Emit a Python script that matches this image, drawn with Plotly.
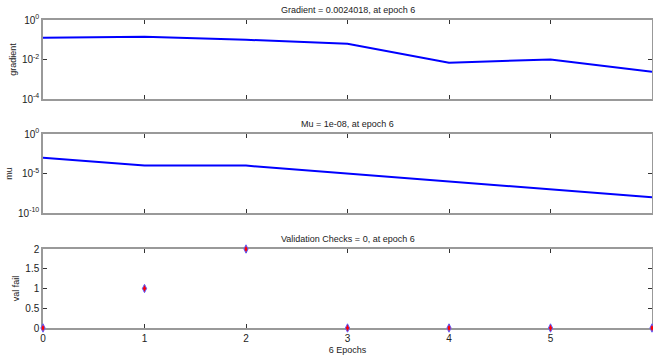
import plotly.graph_objects as go

epochs = [0, 1, 2, 3, 4, 5, 6]
gradient = [0.125, 0.14, 0.1, 0.063, 0.0069, 0.01, 0.0024018]
mu = [1e-3, 1e-4, 1e-4, 1e-5, 1e-6, 1e-7, 1e-8]
val_fail = [0, 1, 2, 0, 0, 0, 0]

titles = ["Gradient = 0.0024018, at epoch 6",
          "Mu = 1e-08, at epoch 6",
          "Validation Checks = 0, at epoch 6"]

W, H = 653, 356
fig = go.Figure()

fig.add_trace(go.Scatter(x=epochs, y=gradient, mode="lines",
                         line=dict(color="#0000FF", width=2), xaxis="x", yaxis="y"))
fig.add_trace(go.Scatter(x=epochs, y=mu, mode="lines",
                         line=dict(color="#0000FF", width=2), xaxis="x2", yaxis="y2"))
fig.add_trace(go.Scatter(x=epochs, y=val_fail, mode="markers", cliponaxis=False,
                         marker=dict(symbol="diamond-tall", color="#FF0000", size=6,
                                     line=dict(color="#6060FF", width=1)),
                         xaxis="x3", yaxis="y3"))

def ydom(top, bot):
    return [1 - bot / H, 1 - top / H]

doms = [ydom(20, 99), ydom(134, 213), ydom(249, 328)]
font = dict(family="Liberation Sans, Arial, sans-serif", size=9, color="#222222")
tfont = dict(family="Liberation Sans, Arial, sans-serif", size=10, color="#222222")

axcommon = dict(showline=True, linecolor="#999999", linewidth=1.5, mirror="ticks",
                ticks="inside", ticklen=4, tickcolor="#333333", showgrid=False,
                zeroline=False, tickfont=tfont, automargin=False, layer="below traces")

layout = dict(width=W, height=H, margin=dict(l=43, r=1, t=0, b=0),
              paper_bgcolor="white", plot_bgcolor="white", showlegend=False,
              font=font)

for i in range(3):
    xs = "" if i == 0 else str(i + 1)
    xa = dict(axcommon, domain=[0, 1], range=[0, 6], anchor="y" + xs,
              tickvals=epochs, showticklabels=(i == 2))
    if i == 2:
        xa["title"] = dict(text="6 Epochs", font=font, standoff=4)
    layout["xaxis" + xs] = xa

layout["yaxis"] = dict(axcommon, domain=doms[0], type="log", range=[-4, 0], anchor="x",
                       tickvals=[1e-4, 1e-2, 1],
                       ticktext=["10<sup>-4</sup>", "10<sup>-2</sup>", "10<sup>0</sup>"],
                       title=dict(text="gradient", font=font, standoff=4))
layout["yaxis2"] = dict(axcommon, domain=doms[1], type="log", range=[-10, 0], anchor="x2",
                        tickvals=[1e-10, 1e-5, 1],
                        ticktext=["10<sup>-10</sup>", "10<sup>-5</sup>", "10<sup>0</sup>"],
                        title=dict(text="mu", font=font, standoff=4))
layout["yaxis3"] = dict(axcommon, domain=doms[2], range=[0, 2], anchor="x3",
                        tickvals=[0, 0.5, 1, 1.5, 2],
                        ticktext=["0", "0.5", "1", "1.5", "2"],
                        title=dict(text="val fail", font=font, standoff=4))

annotations = []
for i, t in enumerate(titles):
    annotations.append(dict(text=t, x=0.5, xref="paper", y=doms[i][1], yref="paper",
                            yanchor="bottom", yshift=3, showarrow=False, font=font))
layout["annotations"] = annotations

fig.update_layout(**layout)
fig.write_html("out.html")
